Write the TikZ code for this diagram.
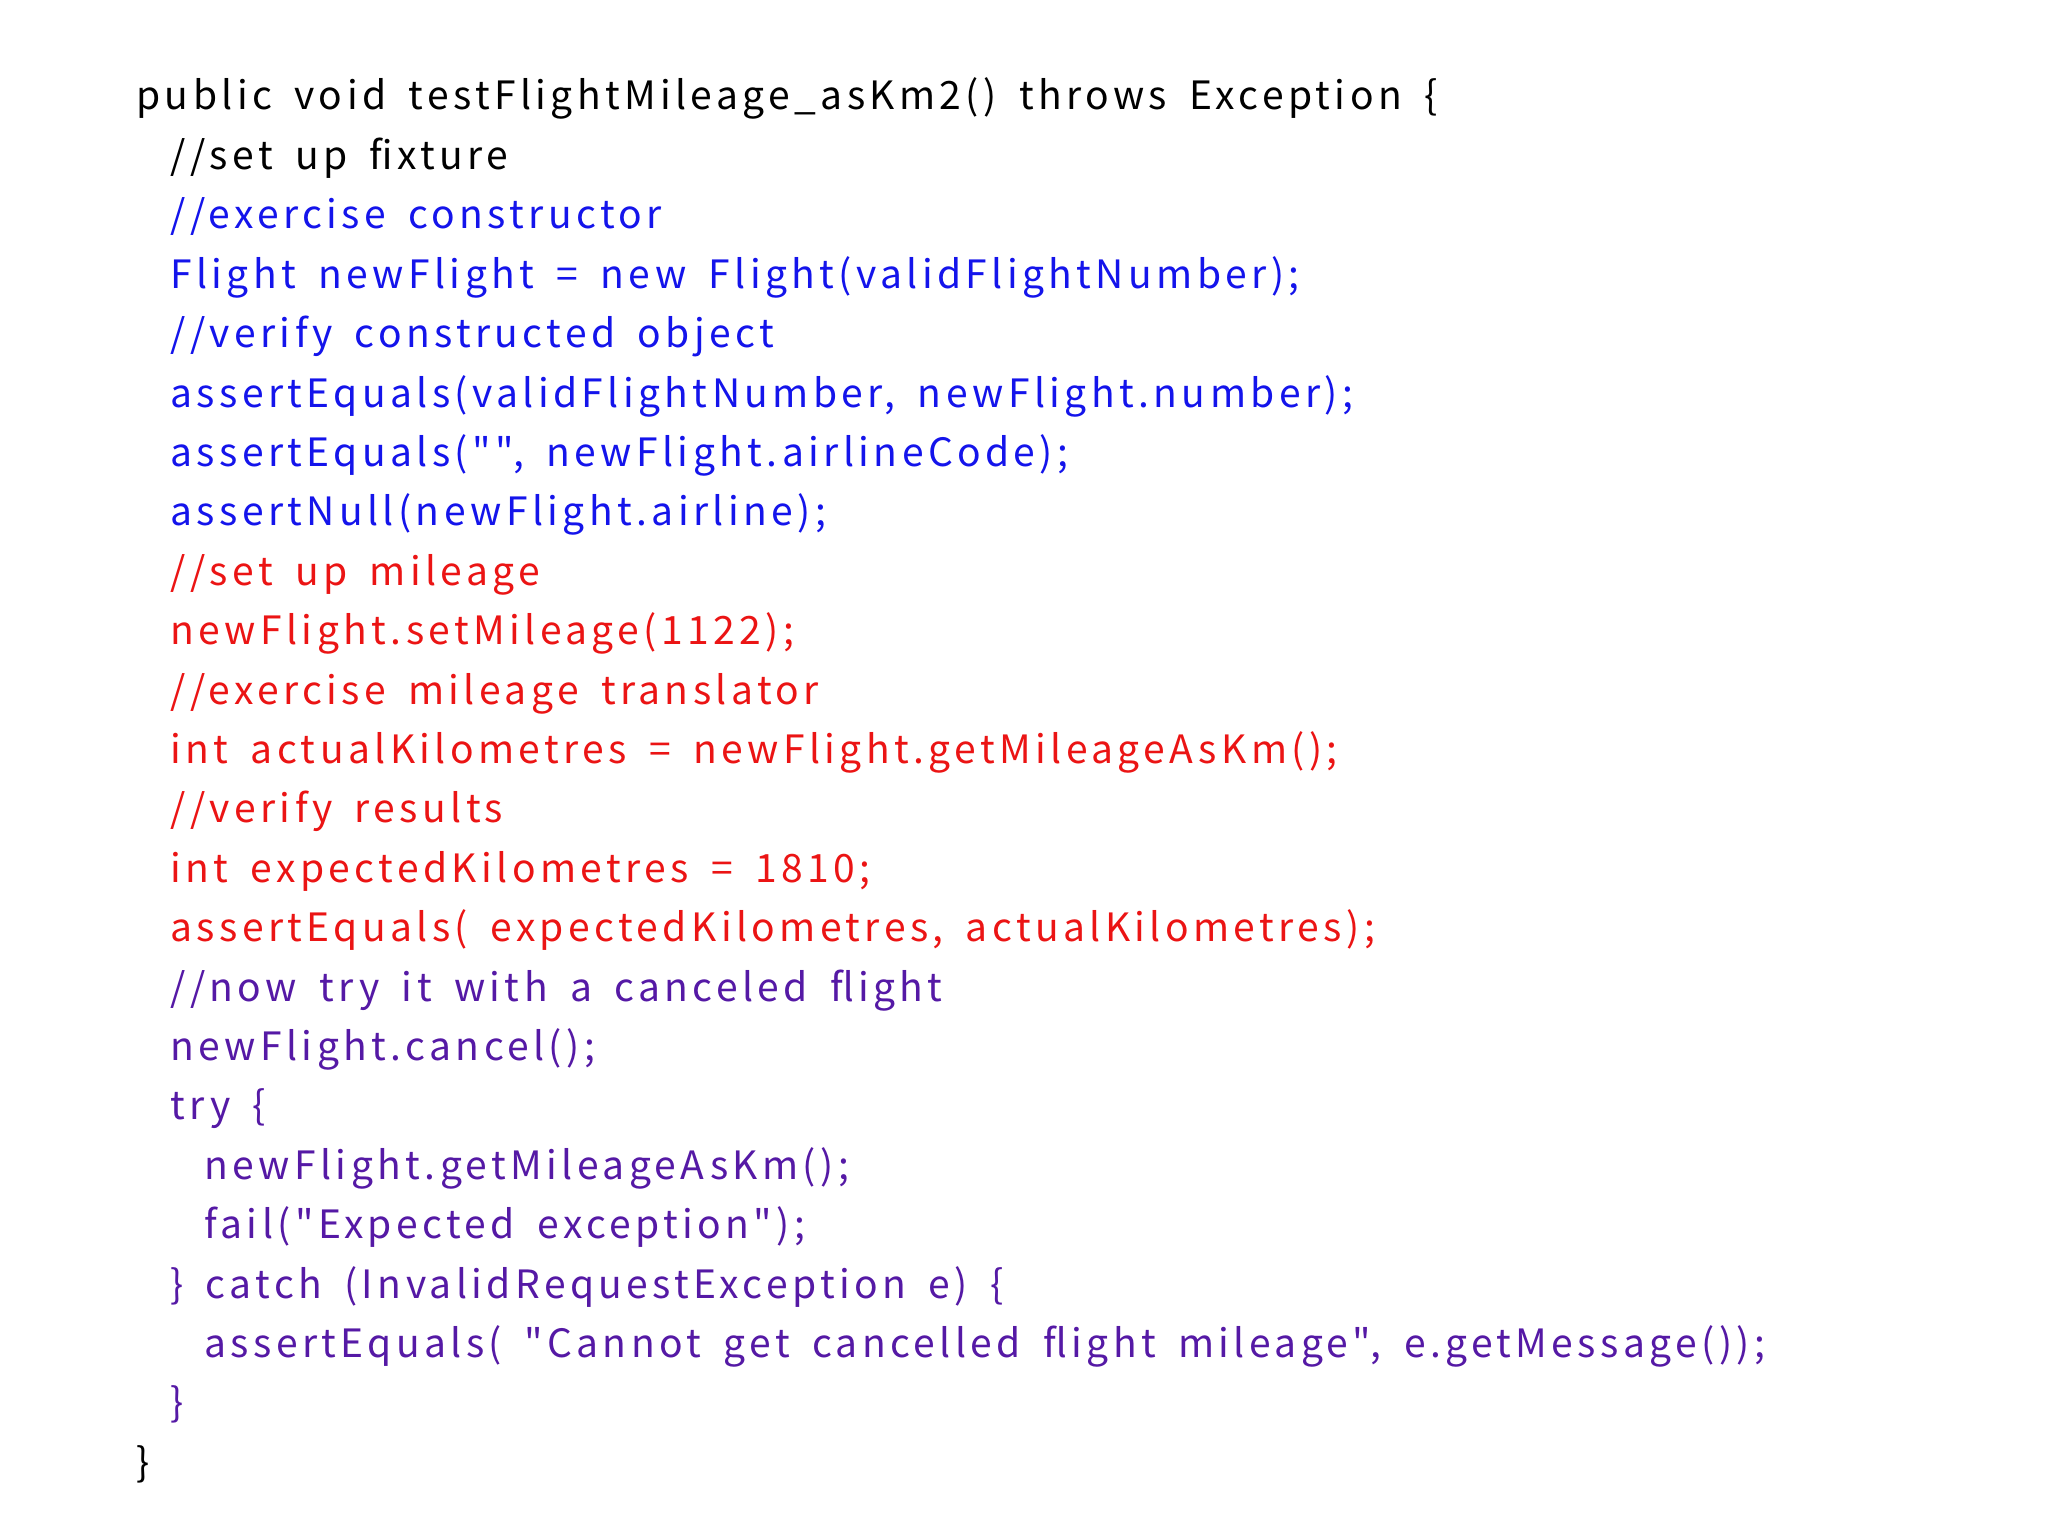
\documentclass[tikz,border=0pt]{standalone}
\usepackage{fontspec}
\setmainfont{Noto Sans CJK JP}[Ligatures=TeXOff,LetterSpace=11.3,WordSpace=1.7]
\definecolor{cblue}{RGB}{20,20,235}
\definecolor{cred}{RGB}{235,20,20}
\definecolor{cpur}{RGB}{85,25,165}
\begin{document}
\begin{tikzpicture}[x=1pt,y=1pt,
  ln/.style={anchor=base west,inner sep=0pt,font=\fontsize{19.5}{22}\selectfont}]
\useasboundingbox (0,0) rectangle (1024,-767.5);
\def\L{68}\def\A{85}\def\B{102}\def\s{29.7}
\node[ln] (l0) at (\L,-55) {public void testFlightMileage\_asKm2() throws Exception \{};
\node[ln] (l1) at (\A,-55-1*\s) {//set up fixture};
\node[ln,text=cblue] (l2) at (\A,-55-2*\s) {//exercise constructor};
\node[ln,text=cblue] (l3) at (\A,-55-3*\s) {Flight newFlight = new Flight(validFlightNumber);};
\node[ln,text=cblue] (l4) at (\A,-55-4*\s) {//verify constructed object};
\node[ln,text=cblue] (l5) at (\A,-55-5*\s) {assertEquals(validFlightNumber, newFlight.number);};
\node[ln,text=cblue] (l6) at (\A,-55-6*\s) {assertEquals("", newFlight.airlineCode);};
\node[ln,text=cblue] (l7) at (\A,-55-7*\s) {assertNull(newFlight.airline);};
\node[ln,text=cred] (l8) at (\A,-55-8*\s) {//set up mileage};
\node[ln,text=cred] (l9) at (\A,-55-9*\s) {newFlight.setMileage(1122);};
\node[ln,text=cred] (l10) at (\A,-55-10*\s) {//exercise mileage translator};
\node[ln,text=cred] (l11) at (\A,-55-11*\s) {int actualKilometres = newFlight.getMileageAsKm();};
\node[ln,text=cred] (l12) at (\A,-55-12*\s) {//verify results};
\node[ln,text=cred] (l13) at (\A,-55-13*\s) {int expectedKilometres = 1810;};
\node[ln,text=cred] (l14) at (\A,-55-14*\s) {assertEquals( expectedKilometres, actualKilometres);};
\node[ln,text=cpur] (l15) at (\A,-55-15*\s) {//now try it with a canceled flight};
\node[ln,text=cpur] (l16) at (\A,-55-16*\s) {newFlight.cancel();};
\node[ln,text=cpur] (l17) at (\A,-55-17*\s) {try \{};
\node[ln,text=cpur] (l18) at (\B,-55-18*\s) {newFlight.getMileageAsKm();};
\node[ln,text=cpur] (l19) at (\B,-55-19*\s) {fail("Expected exception");};
\node[ln,text=cpur] (l20) at (\A,-55-20*\s) {\} catch (InvalidRequestException e) \{};
\node[ln,text=cpur] (l21) at (\B,-55-21*\s) {assertEquals( "Cannot get cancelled flight mileage", e.getMessage());};
\node[ln,text=cpur] (l22) at (\A,-55-22*\s) {\}};
\node[ln] (l23) at (\L,-55-23*\s) {\}};
\end{tikzpicture}
\end{document}
